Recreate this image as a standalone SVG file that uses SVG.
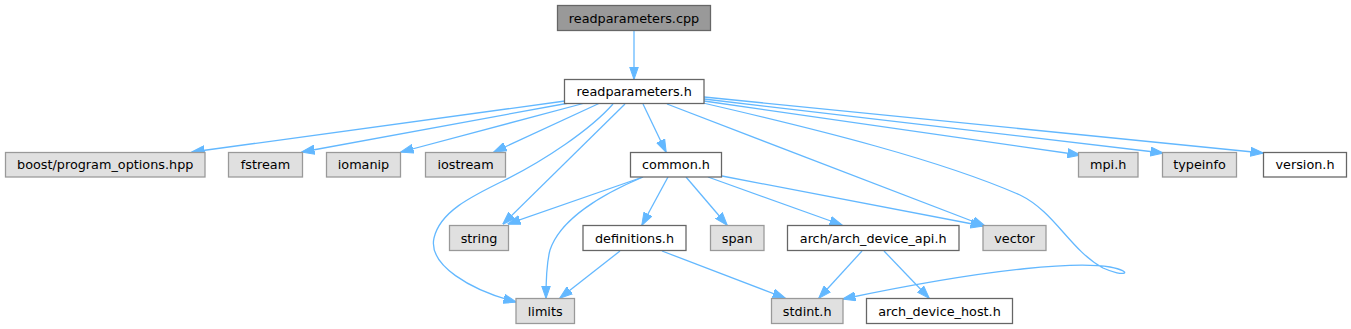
<svg xmlns="http://www.w3.org/2000/svg" width="1351" height="329" viewBox="0 0 1351 329">
<style>
text{font-family:"DejaVu Sans","Liberation Sans",sans-serif;font-size:12.8px;fill:#000;text-anchor:middle}
.root rect{fill:#999999;stroke:#666666;stroke-width:1.28}
.doc rect{fill:#ffffff;stroke:#666666;stroke-width:1.28}
.sys rect{fill:#e0e0e0;stroke:#999999;stroke-width:1.28}
#edges path{fill:none;stroke:#63b8ff;stroke-width:1.28;marker-end:url(#arr)}
</style>
<defs>
<marker id="arr" viewBox="0 0 13 10" refX="12.5" refY="5" markerWidth="13" markerHeight="10" markerUnits="userSpaceOnUse" orient="auto">
<path d="M0,0.5 L13,5 L0,9.5 z" fill="#63b8ff" stroke="#63b8ff" stroke-width="1"/>
</marker>
</defs>
<g id="edges">
<path d="M634,31 L634,79"/>
<path d="M565,101 L192,152"/>
<path d="M569,103 L302,152"/>
<path d="M585,103 L401,152"/>
<path d="M600,103 L494,152"/>
<path d="M613,104 C590,130 545,160 505,180 C470,197 440,212 434,238 C428,265 470,290 516,302"/>
<path d="M625,104 L503,224"/>
<path d="M643,104 L666,152"/>
<path d="M667,104 L985,226"/>
<path d="M703,103 C820,130 940,160 1020,195 C1055,212 1070,250 1103,268 C1125,278 1135,272 1110,267 C1080,262 1000,266 843,299"/>
<path d="M704,101 L1080,155"/>
<path d="M704,99 L1163,153"/>
<path d="M704,97 L1263,153"/>
<path d="M643,177 L508,224"/>
<path d="M643,177 C600,195 560,220 550,250 C546,265 546,282 546,298"/>
<path d="M668,177 L642,225"/>
<path d="M686,177 L727,225"/>
<path d="M708,177 L842,225"/>
<path d="M722,176 L983,226"/>
<path d="M620,251 L560,298"/>
<path d="M662,251 L785,298"/>
<path d="M862,251 L819,298"/>
<path d="M884,251 L929,298"/>
</g>
<g id="n_readparameters_cpp" class="root"><rect x="557.5" y="5.5" width="153" height="25"/><text x="634" y="22.5">readparameters.cpp</text></g>
<g id="n_readparameters_h" class="doc"><rect x="564.5" y="79.5" width="139.5" height="24"/><text x="634.2" y="96">readparameters.h</text></g>
<g id="n_boost" class="sys"><rect x="5.5" y="152.5" width="199.5" height="24.5"/><text x="105.2" y="169">boost/program_options.hpp</text></g>
<g id="n_fstream" class="sys"><rect x="228.5" y="152.5" width="74" height="24.5"/><text x="265.5" y="169">fstream</text></g>
<g id="n_iomanip" class="sys"><rect x="326.5" y="152.5" width="74" height="24.5"/><text x="363.5" y="169">iomanip</text></g>
<g id="n_iostream" class="sys"><rect x="425.5" y="152.5" width="80" height="24.5"/><text x="465.5" y="169">iostream</text></g>
<g id="n_common" class="doc"><rect x="630.5" y="152.5" width="91" height="24.5"/><text x="676" y="169">common.h</text></g>
<g id="n_mpi" class="sys"><rect x="1078.5" y="152.5" width="59.5" height="24.5"/><text x="1108.2" y="169">mpi.h</text></g>
<g id="n_typeinfo" class="sys"><rect x="1162.5" y="152.5" width="74" height="24.5"/><text x="1199.5" y="169">typeinfo</text></g>
<g id="n_version" class="doc"><rect x="1263.5" y="152.5" width="83" height="24.5"/><text x="1305" y="169">version.h</text></g>
<g id="n_string" class="sys"><rect x="449.5" y="225.5" width="59" height="25"/><text x="479" y="242.5">string</text></g>
<g id="n_definitions" class="doc"><rect x="583" y="225.5" width="103" height="25"/><text x="634.5" y="242.5">definitions.h</text></g>
<g id="n_span" class="sys"><rect x="710.5" y="225.5" width="53.5" height="25"/><text x="737.2" y="242.5">span</text></g>
<g id="n_arch_api" class="doc"><rect x="787.5" y="225.5" width="171.5" height="25"/><text x="873.2" y="242.5">arch/arch_device_api.h</text></g>
<g id="n_vector" class="sys"><rect x="983" y="225.5" width="63" height="25"/><text x="1014.5" y="242.5">vector</text></g>
<g id="n_limits" class="sys"><rect x="516" y="298.5" width="58.5" height="25"/><text x="545.2" y="315.5">limits</text></g>
<g id="n_stdint" class="sys"><rect x="771.5" y="298.5" width="71.5" height="25"/><text x="807.2" y="315.5">stdint.h</text></g>
<g id="n_arch_host" class="doc"><rect x="866.5" y="298.5" width="146" height="25"/><text x="939.5" y="315.5">arch_device_host.h</text></g>
</svg>
